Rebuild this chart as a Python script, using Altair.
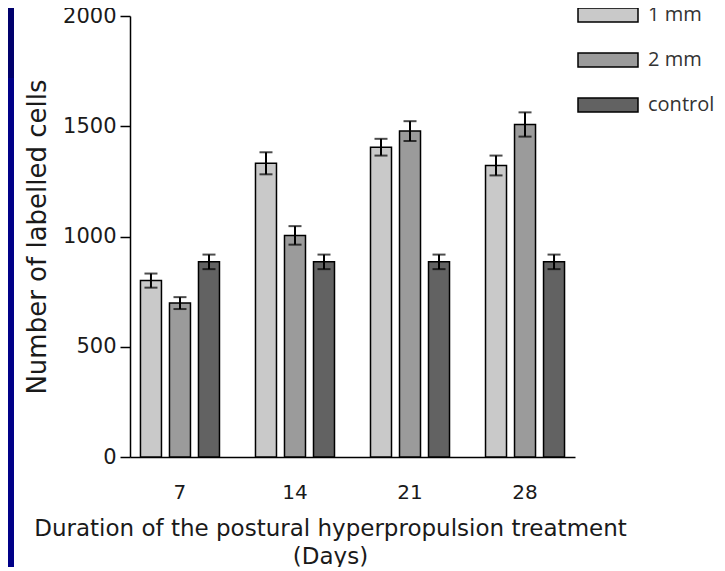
import altair as alt
import pandas as pd

# ---- data ----
days = ["7", "14", "21", "28"]
series = ["1 mm", "2 mm", "control"]
mean_1mm = [800, 1332, 1405, 1322]
err_1mm = [32, 50, 38, 45]
mean_2mm = [698, 1005, 1478, 1508]
err_2mm = [27, 42, 45, 55]
mean_ctrl = [885, 885, 885, 885]
err_ctrl = [33, 33, 33, 33]
y_ticks = [0, 500, 1000, 1500, 2000]
colors = ["#c9c9c9", "#9b9b9b", "#626262"]

rows = []
for s, m, e in zip(series, [mean_1mm, mean_2mm, mean_ctrl], [err_1mm, err_2mm, err_ctrl]):
    for d, mv, ev in zip(days, m, e):
        rows.append({"day": d, "series": s, "value": mv, "low": mv - ev, "high": mv + ev})
df = pd.DataFrame(rows)

W, H = 445, 441
x_title = ["Duration of the postural hyperpropulsion treatment", "(Days)"]
y_title = "Number of labelled cells"

x_enc = alt.X(
    "day:N", sort=days, title=x_title,
    scale=alt.Scale(paddingInner=0.313, paddingOuter=0.091),
    axis=alt.Axis(labelAngle=0, ticks=False, tickSize=0, labelPadding=25,
                  labelFontSize=20, titleFontSize=23, titlePadding=15,
                  titleLineHeight=28, titleX=200, titleAlign="center"),
)
xo_enc = alt.XOffset("series:N", sort=series,
                     scale=alt.Scale(paddingInner=0.276, paddingOuter=0))
y_axis = alt.Axis(values=y_ticks, format="d", tickSize=10, labelPadding=4,
                  labelFontSize=21, titleFontSize=26, titlePadding=12, grid=False)
y_scale = alt.Scale(domain=[0, 2000], nice=False)

base = alt.Chart(df)

bars = base.mark_bar(stroke="black", strokeWidth=1.5, opacity=1).encode(
    x=x_enc,
    xOffset=xo_enc,
    y=alt.Y("value:Q", scale=y_scale, axis=y_axis, title=y_title),
    fill=alt.Fill(
        "series:N", sort=series,
        scale=alt.Scale(domain=series, range=colors),
        legend=alt.Legend(
            title=None, orient="none", legendX=447, legendY=-32,
            symbolType="M-1,-0.2333H1V0.2333H-1Z", symbolSize=3600,
            symbolStrokeColor="black", symbolStrokeWidth=1.5, symbolOpacity=1,
            labelFont="Open Sans", labelFontSize=20, labelColor="#333333",
            labelOffset=9, rowPadding=4, labelLimit=200,
        ),
    ),
)

err_rule = base.mark_rule(color="black", strokeWidth=2).encode(
    x=x_enc, xOffset=xo_enc,
    y=alt.Y("low:Q", scale=y_scale, axis=y_axis, title=y_title),
    y2="high:Q",
)
cap_low = base.mark_tick(color="black", thickness=2, size=13).encode(
    x=x_enc, xOffset=xo_enc,
    y=alt.Y("low:Q", scale=y_scale, axis=y_axis, title=y_title),
)
cap_high = base.mark_tick(color="black", thickness=2, size=13).encode(
    x=x_enc, xOffset=xo_enc,
    y=alt.Y("high:Q", scale=y_scale, axis=y_axis, title=y_title),
)

strip_df = pd.DataFrame({"k": [0]})
strip_top = alt.Chart(strip_df).mark_rect(color="#00006c").encode(
    x=alt.value(-122), x2=alt.value(-116), y=alt.value(-8), y2=alt.value(62)
)
strip_low = alt.Chart(strip_df).mark_rect(color="#000088").encode(
    x=alt.value(-122), x2=alt.value(-116), y=alt.value(62), y2=alt.value(560)
)

chart = alt.layer(strip_top, strip_low, bars, err_rule, cap_low, cap_high).properties(
    width=W, height=H,
    autosize=alt.AutoSizeParams(type="none"),
    padding={"left": 122, "top": 8, "right": 142, "bottom": 110},
    background="white",
).configure_view(stroke=None).configure_axis(
    domainColor="black", domainWidth=1.5, tickColor="black", tickWidth=1.5,
    labelFont="DejaVu Sans", titleFont="DejaVu Sans",
    labelColor="#1a1a1a", titleColor="#1a1a1a", titleFontWeight="normal",
)

chart.save("out.html", embed_options={"renderer": "svg", "actions": False})
